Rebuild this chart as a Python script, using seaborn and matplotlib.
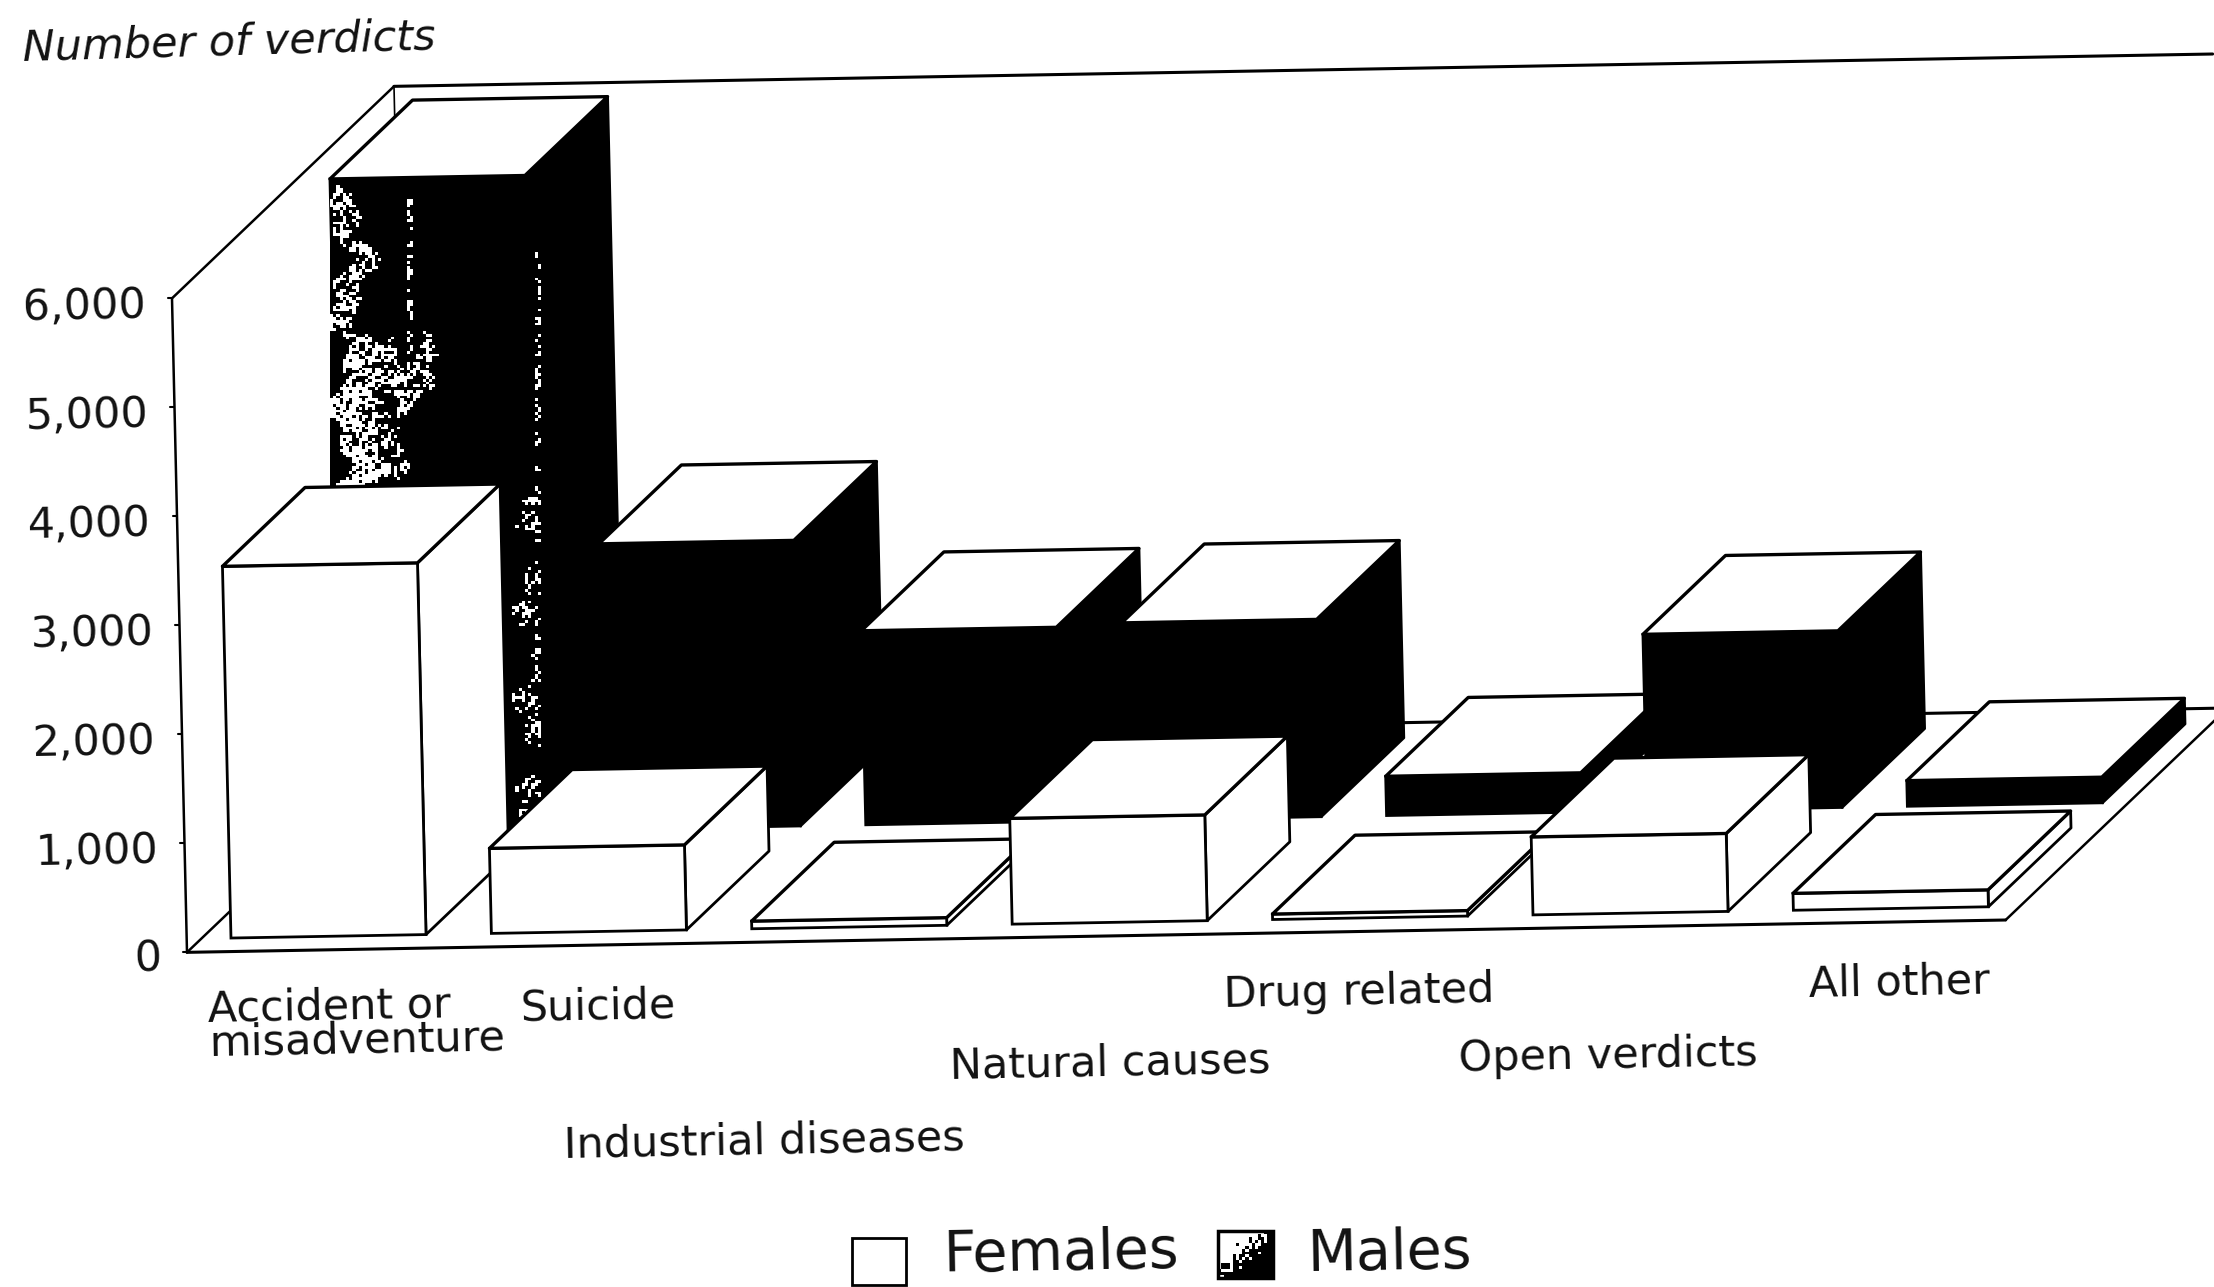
import matplotlib
matplotlib.use('Agg')
import matplotlib.pyplot as plt
from matplotlib.transforms import Affine2D
import numpy as np
import pandas as pd
import seaborn as sns

categories = ['Accident or\nmisadventure', 'Suicide', 'Industrial diseases', 'Natural causes',
              'Drug related', 'Open verdicts', 'All other']
females = [3410, 780, 70, 970, 50, 715, 155]
males = [6010, 2620, 1780, 1810, 360, 1620, 235]
yticks = [0, 1000, 2000, 3000, 4000, 5000, 6000]

# chart geometry, in pixels of the 2214x1287 page
STEP = 260.4
X0, Y0 = 328.5, 936.3
SLOPE = -4.63
UP_X, UP_Y = -0.0025, -0.109
DEPTH = np.array([222, -212])
BAR_W = 0.749
BAR_D = 0.372
MALE_D = 0.49
MALE_X = 0.02
FLOOR_D = -0.065
XL, XR = -0.488, 6.496
ROT = 1.1


def proj(x, v, d=0):
    return (X0 + STEP * x + UP_X * v + DEPTH[0] * d,
            Y0 + SLOPE * x + UP_Y * v + DEPTH[1] * d)


def face(ax, pts, fc, z, lw=2):
    xs, ys = zip(*[proj(*p) for p in pts])
    ax.fill(xs, ys, fc=fc, ec='black', lw=lw, zorder=z, joinstyle='round')


def line(ax, a, b, z=1, lw=1.8):
    p, q = proj(*a), proj(*b)
    ax.plot([p[0], q[0]], [p[1], q[1]], c='black', lw=lw, zorder=z, solid_capstyle='round')


def mottle(shape, density):
    # fixed speckle for the worn print of the male fill
    r, c = np.indices(shape)
    grain = (np.sin(r * 12.9898 + c * 78.233) * 43758.5453) % 1
    clump = 0.5 + 0.5 * np.sin(r * 0.9 + np.sin(c * 0.7) * 2.0) * np.sin(c * 1.1 + r * 0.3)
    return ((grain * 0.6 + clump * 0.4) < density).astype(float)


def draw_series(ax, values, d, off, side_color, front_color, base_z):
    xs = [i + off for i in range(len(values))]
    df = pd.DataFrame({'x': xs, 'v': values})
    n_before = len(ax.patches)
    tr = Affine2D(np.array([[STEP, UP_X, X0 + DEPTH[0] * d],
                            [SLOPE, UP_Y, Y0 + DEPTH[1] * d],
                            [0, 0, 1]])) + ax.transData
    sns.barplot(data=df, x='x', y='v', orient='x', native_scale=True, width=BAR_W, color=front_color,
                saturation=1, edgecolor='black', linewidth=2, errorbar=None, legend=False,
                transform=tr, ax=ax)
    bars = ax.patches[n_before:]
    hw = BAR_W / 2
    for i, (x, v) in enumerate(zip(xs, values)):
        z = base_z + i
        bars[i].set_zorder(z + 0.2)
        face(ax, [(x + hw, 0, d), (x + hw, v, d), (x + hw, v, d + BAR_D), (x + hw, 0, d + BAR_D)], side_color, z)
        face(ax, [(x - hw, v, d), (x + hw, v, d), (x + hw, v, d + BAR_D), (x - hw, v, d + BAR_D)], 'white', z + 0.3, lw=2.4)
    return bars


sns.set_theme(style='white')
plt.rcParams['font.family'] = ['DejaVu Sans']

fig = plt.figure(figsize=(22.14, 12.87), dpi=100)
ax = fig.add_axes([0, 0, 1, 1])

# walls and floor
wall_top = yticks[-1]
line(ax, (XL, 0, FLOOR_D), (XR, 0, FLOOR_D), lw=2.2)
line(ax, (XL, 0, FLOOR_D), (XL, 0, FLOOR_D + 1))
line(ax, (XR, 0, FLOOR_D), (XR, 0, FLOOR_D + 1))
line(ax, (XL, 0, FLOOR_D + 1), (XR, 0, FLOOR_D + 1), lw=2.2)
line(ax, (XL, 0, FLOOR_D), (XL, wall_top, FLOOR_D))
line(ax, (XL, wall_top, FLOOR_D), (XL, wall_top, FLOOR_D + 1))
line(ax, (XL, wall_top, FLOOR_D + 1), (XR, wall_top, FLOOR_D + 1), lw=2.2)
line(ax, (XL, wall_top, FLOOR_D + 1), (XL, 0, FLOOR_D + 1), lw=1.2)

for t in yticks:
    px, py = proj(XL, t, FLOOR_D)
    ax.plot([px - 4, px], [py, py], c='black', lw=1.5, zorder=1)
    ax.text(px - 26, py + 7, f'{t:,}', ha='right', va='center', fontsize=31, color='#111111',
            rotation=ROT, rotation_mode='anchor')

male_bars = draw_series(ax, males, MALE_D, MALE_X, 'black', 'black', 10)
female_bars = draw_series(ax, females, 0, 0, 'white', 'white', 30)

# worn print on the tallest male bar
x_a, y_a = proj(MALE_X - BAR_W / 2, males[0], MALE_D)
x_b, y_b = proj(MALE_X + BAR_W / 2, 0, MALE_D)
h, w = 230, 66
r_idx, c_idx = np.indices((h, w))
u = r_idx / h
p = c_idx / w
# wobble the patch edges so they do not read as boxes
pj = p + 0.05 * np.sin(u * 41) + 0.03 * np.sin(u * 97)
uj = u + 0.02 * np.sin(p * 31) + 0.012 * np.sin(p * 73)
density = np.zeros((h, w))
density[(pj > 0.03) & (pj < 0.16) & (uj > 0.02) & (uj < 0.26)] = 0.5
density[(pj > 0.03) & (pj < 0.22) & (uj >= 0.26) & (uj < 0.5)] = 0.62
density[(pj >= 0.16) & (pj < 0.46) & (uj >= 0.25) & (uj < 0.34)] = 0.5
density[(pj >= 0.2) & (pj < 0.32) & (uj >= 0.34) & (uj < 0.46)] = 0.38
density[(p > 0.36) & (p < 0.38) & (u > 0.02) & (u < 0.35)] = 0.4
density[(p > 0.96) & (p < 0.99) & (u > 0.1) & (u < 0.48)] = 0.35
density[(pj > 0.92) & (p < 1.0) & (u >= 0.48)] = 0.42
img = ax.imshow(mottle((h, w), density), cmap='gray', vmin=0, vmax=1, aspect='auto',
                interpolation='nearest', extent=(x_a, x_b, y_b, y_a + 6), zorder=10.25)
img.set_clip_path(male_bars[0])

# category labels sit where the page put them
label_xy = [(209, 1063), (520, 1021), (564, 1158), (950, 1079), (1224, 1007), (1459, 1071), (1809, 997)]
for lab, (lx, ly) in zip(categories, label_xy):
    ax.text(lx, ly, lab, ha='left', va='baseline', fontsize=31, linespacing=0.76, color='#111111',
            rotation=ROT, rotation_mode='anchor')

ax.text(23, 61, 'Number of verdicts', ha='left', va='baseline', style='italic', fontsize=31,
        color='#111111', rotation=1.6, rotation_mode='anchor')

# legend
ax.add_patch(plt.Rectangle((852, 1238), 54, 47, fc='white', ec='black', lw=2, zorder=5))
ax.text(943, 1272, 'Females', ha='left', va='baseline', fontsize=41, color='#111111',
        rotation=ROT, rotation_mode='anchor')
swatch = plt.Rectangle((1218, 1231), 55, 47, fc='white', ec='black', lw=2.5, zorder=7)
swatch.set_fill(False)
ax.add_patch(swatch)
sw_h, sw_w = 16, 18
sr, sc = np.indices((sw_h, sw_w))
sw_density = np.clip(1.5 - (sr / sw_h + sc / sw_w) * 1.1, 0, 1)
sw_img = ax.imshow(mottle((sw_h, sw_w), sw_density), cmap='gray', vmin=0, vmax=1, aspect='auto',
                   interpolation='nearest', extent=(1218, 1273, 1278, 1231), zorder=6)
ax.text(1307, 1271, 'Males', ha='left', va='baseline', fontsize=41, color='#111111',
        rotation=ROT, rotation_mode='anchor')

ax.set_xlim(0, 2214)
ax.set_ylim(1287, 0)
ax.set_xlabel('')
ax.set_ylabel('')
ax.axis('off')
fig.savefig('out.png', dpi=100, facecolor='white')
